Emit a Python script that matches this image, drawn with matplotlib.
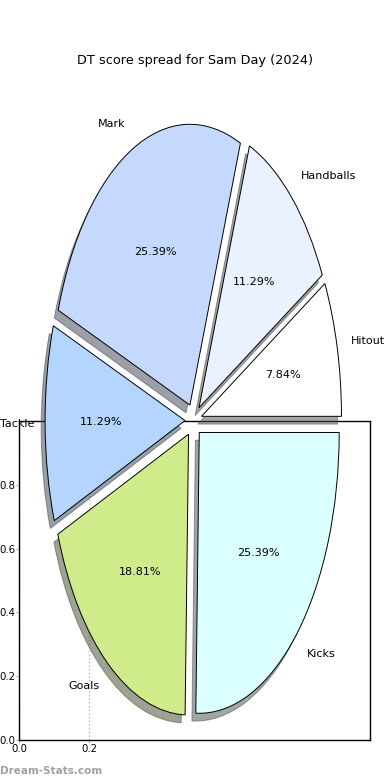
import matplotlib
matplotlib.use('Agg')
import matplotlib.pyplot as plt

# DT points per stat category
labels = ['Hitout', 'Handballs', 'Mark', 'Tackle', 'Goals', 'Kicks']
dt_points = [100, 144, 324, 144, 240, 324]
colors = ['#FFFFFF', '#EAF1FF', '#C5D9FF', '#B3D5FF', '#D0EB8A', '#DBFFFF']
explode = [0.06] * len(labels)

fig = plt.figure(figsize=(3.9, 7.8), dpi=100)

# background frame axes (visible under the pie)
ax_bg = fig.add_axes([0.0487, 0.0513, 0.9, 0.409])
ax_bg.set_xlim(0, 1)
ax_bg.set_ylim(0, 1)
ax_bg.set_xticks([0.0, 0.2])
ax_bg.set_yticks([0.0, 0.2, 0.4, 0.6, 0.8])
ax_bg.tick_params(labelsize=7.3, length=2, color='#bbbbbb', pad=0.8)
ax_bg.grid(axis='x', linestyle=':', color='#bbbbbb', linewidth=1)
for s in ax_bg.spines.values():
    s.set_linewidth(1.0)

# pie axes over the whole figure, no equal aspect -> elliptical pie
ax = fig.add_axes([0.0474, 0.011, 0.897, 0.9])
ax.patch.set_alpha(0)
wedges, texts, autotexts = ax.pie(
    dt_points, labels=labels, colors=colors, explode=explode,
    autopct='%.2f%%', shadow=True, startangle=0, labeldistance=1.1,
    wedgeprops=dict(edgecolor='black', linewidth=0.7),
    textprops=dict(fontsize=8))
ax.set_xlim(-1.25, 1.25)
ax.set_ylim(-1.25, 1.25)
ax.set_aspect('auto')
ax.axis('off')

# keep the Tackle label inside the figure edge
tx, ty = texts[3].get_position()
texts[3].set_position((tx + 0.02, ty))

fig.text(0.5, 0.923, 'DT score spread for Sam Day (2024)', ha='center',
         va='center', fontsize=9.3)
fig.text(0.0, 0.012, 'Dream-Stats.com', ha='left', va='center',
         fontsize=7.5, color='#a0a0a0', fontweight='bold')

plt.savefig('out.png', dpi=100)
plt.close()
